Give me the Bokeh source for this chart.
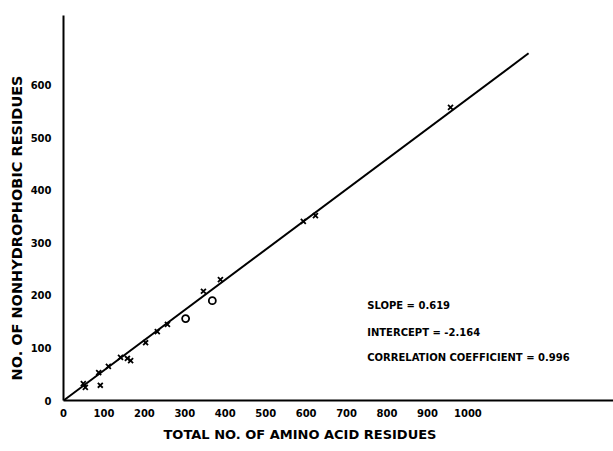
from bokeh.plotting import figure
from bokeh.models import FixedTicker, Range1d, Label, Title
from bokeh.embed import file_html
from bokeh.resources import INLINE

# Data (axis units)
total_residues = [49, 54, 87, 91, 111, 141, 158, 166, 203, 232, 257, 346, 388, 593, 623, 957]
nonhydrophobic = [32, 25, 53, 29, 65, 82, 80, 76, 110, 131, 145, 208, 230, 341, 352, 558]
circle_total = [302, 368]
circle_nonhyd = [156, 190]
fit_x = [0, 1150]
fit_y = [0, 661]
x_ticks = [0, 100, 200, 300, 400, 500, 600, 700, 800, 900, 1000]
y_ticks = [0, 100, 200, 300, 400, 500, 600]
stats = ["SLOPE = 0.619", "INTERCEPT = -2.164", "CORRELATION COEFFICIENT = 0.996"]

FONT = "DejaVu Sans"

p = figure(width=613, height=451, output_backend="svg", toolbar_location=None,
           x_range=Range1d(0, 1360), y_range=Range1d(0, 733),
           min_border_left=63, min_border_right=0, min_border_top=15, min_border_bottom=51)
p.outline_line_color = None
p.grid.visible = False

for ax in (p.xaxis[0], p.yaxis[0]):
    ax.axis_line_width = 2
    ax.axis_line_color = "black"
    ax.major_tick_line_color = None
    ax.minor_tick_line_color = None
    ax.major_tick_out = 0
    ax.major_tick_in = 0
    ax.major_label_text_font = FONT
    ax.major_label_text_font_size = "10px"
    ax.major_label_text_font_style = "bold"
    ax.major_label_text_color = "black"

p.xaxis[0].ticker = FixedTicker(ticks=x_ticks)
p.yaxis[0].ticker = FixedTicker(ticks=y_ticks)
p.xaxis[0].major_label_standoff = 8
p.yaxis[0].major_label_standoff = 12

p.line(fit_x, fit_y, line_color="black", line_width=2)
p.scatter(total_residues, nonhydrophobic, marker="x", size=7, line_color="black", line_width=1.8)
p.scatter(circle_total, circle_nonhyd, marker="circle", size=7, fill_color="white",
          line_color="black", line_width=1.8)

xt = Title(text="TOTAL NO. OF AMINO ACID RESIDUES", align="left", offset=100,
           text_font=FONT, text_font_size="13px", text_font_style="bold",
           text_color="black", standoff=11)
p.add_layout(xt, "below")

yt = Title(text="NO. OF NONHYDROPHOBIC RESIDUES", align="left", offset=20,
           text_font=FONT, text_font_size="14.5px", text_font_style="bold",
           text_color="black", standoff=5)
p.add_layout(yt, "left")

stat_y = [180, 130, 81]
for txt, yy in zip(stats, stat_y):
    p.add_layout(Label(x=751, y=yy, text=txt, text_font=FONT, text_font_size="10px",
                       text_font_style="bold", text_baseline="middle", text_color="black"))

open("out.html", "w").write(file_html(p, INLINE))
